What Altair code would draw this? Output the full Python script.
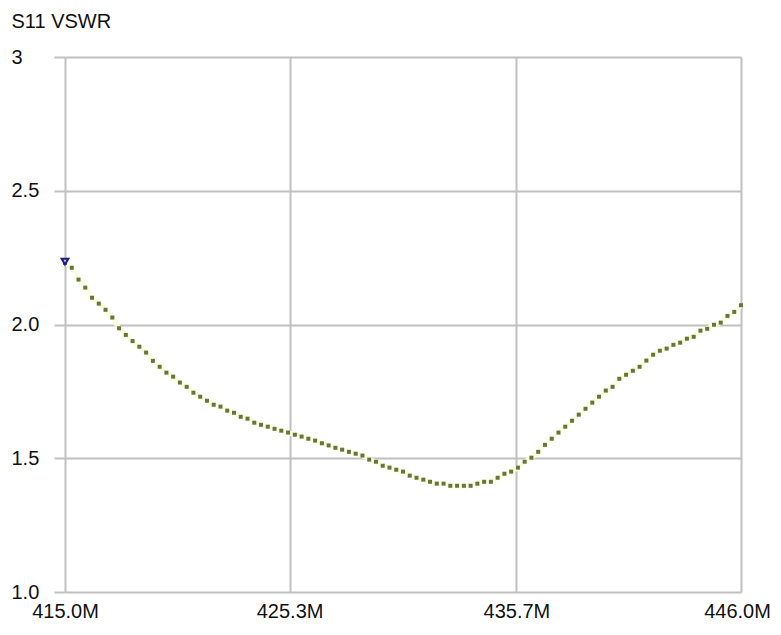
import altair as alt
import pandas as pd

# Sweep definition: 101 points from 415.0 MHz to 446.0 MHz
f_start = 415.0
f_stop = 446.0
n_points = 101
freq = [round(f_start + i * (f_stop - f_start) / (n_points - 1), 3) for i in range(n_points)]

vswr = [
    2.230, 2.212, 2.168, 2.138, 2.100, 2.078, 2.055, 2.026, 1.986, 1.961,
    1.938, 1.917, 1.895, 1.864, 1.842, 1.820, 1.805, 1.783, 1.767, 1.745,
    1.730, 1.715, 1.700, 1.693, 1.678, 1.670, 1.655, 1.648, 1.633, 1.625,
    1.618, 1.610, 1.603, 1.596, 1.588, 1.581, 1.573, 1.566, 1.556, 1.548,
    1.539, 1.532, 1.524, 1.517, 1.510, 1.495, 1.487, 1.472, 1.465, 1.457,
    1.450, 1.435, 1.427, 1.420, 1.412, 1.405, 1.405, 1.397, 1.397, 1.397,
    1.397, 1.405, 1.412, 1.412, 1.427, 1.442, 1.450, 1.465, 1.487, 1.502,
    1.524, 1.550, 1.573, 1.596, 1.618, 1.640, 1.663, 1.685, 1.708, 1.730,
    1.753, 1.767, 1.797, 1.812, 1.827, 1.842, 1.865, 1.887, 1.902, 1.910,
    1.924, 1.932, 1.947, 1.954, 1.977, 1.984, 1.999, 2.007, 2.032, 2.047,
    2.072,
]

x_ticks = [415.0, 425.3, 435.7, 446.0]
y_ticks = [1.0, 1.5, 2.0, 2.5, 3.0]

marker_freq = [415.0]
marker_vswr = [2.235]

df = pd.DataFrame({"freq": freq, "vswr": vswr})
mk = pd.DataFrame({"freq": marker_freq, "vswr": marker_vswr})

GRID = "#c0c0c0"
FONT = "Liberation Sans"

x_enc = alt.X(
    "freq:Q",
    scale=alt.Scale(domain=[f_start, f_stop], nice=False, zero=False),
    axis=alt.Axis(
        values=x_ticks,
        labelExpr="format(datum.value, '.1f') + 'M'",
        grid=True, gridColor=GRID, gridWidth=2,
        ticks=False, domain=False,
        labelPadding=9, labelFontSize=20, labelFont=FONT, labelColor="#111111",
        labelFlush=False, labelOverlap=False,
        labelOffset={"condition": {"test": "datum.value >= 445", "value": -4}, "value": 0},
        title=None,
    ),
)
y_enc = alt.Y(
    "vswr:Q",
    scale=alt.Scale(domain=[1.0, 3.0], nice=False, zero=False),
    axis=alt.Axis(
        values=y_ticks,
        labelExpr="datum.value == 3 ? '3' : format(datum.value, '.1f')",
        grid=True, gridColor=GRID, gridWidth=2,
        ticks=True, tickSize=11, tickColor=GRID, tickWidth=2,
        domain=False,
        labelAlign="left", labelPadding=43, labelBaseline="middle",
        labelFontSize=20, labelFont=FONT, labelColor="#111111",
        labelFlush=False, labelOverlap=False,
        title="S11 VSWR", titleAngle=0, titleAlign="left", titleBaseline="alphabetic",
        titleX=-54, titleY=-30, titleFontSize=20, titleFont=FONT,
        titleFontWeight="normal", titleColor="#111111",
    ),
)

glow = alt.Chart(df).mark_line(color="#fcfce0", strokeWidth=5).encode(x=x_enc, y=y_enc)
pts = alt.Chart(df).mark_square(color="#66753a", size=16, opacity=1).encode(x=x_enc, y=y_enc)
marker = alt.Chart(mk).mark_point(
    shape="triangle-down", filled=True, fill="#c8c8f0", stroke="#1a1a80",
    strokeWidth=2, size=45, opacity=1,
).encode(x="freq:Q", y="vswr:Q")

chart = (
    alt.layer(glow, pts, marker)
    .properties(
        width=676, height=535,
        autosize=alt.AutoSizeParams(type="none"),
        padding={"left": 57, "top": 49, "right": 32, "bottom": 30},
        background="white",
    )
    .configure_view(stroke=None)
)

chart.save("out.html", embed_options={"renderer": "svg", "actions": False})
